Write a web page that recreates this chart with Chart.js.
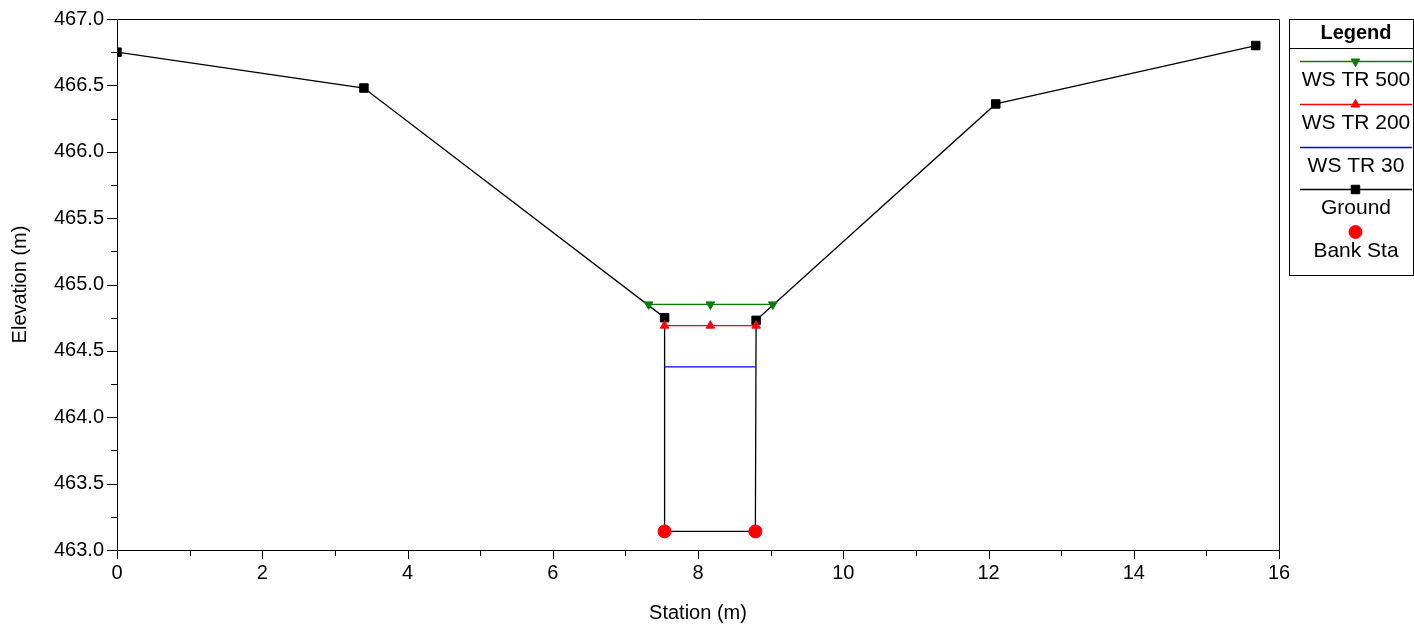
<!DOCTYPE html>
<html>
<head>
<meta charset="utf-8">
<title>Cross Section</title>
<script src="https://cdn.jsdelivr.net/npm/chart.js@4.4.1/dist/chart.umd.min.js"></script>
<style>
  html, body { margin: 0; padding: 0; background: #ffffff; }
  #wrap { position: relative; width: 1414px; height: 627px; }
</style>
</head>
<body>
<div id="wrap"><canvas id="xs" width="1414" height="627"></canvas></div>
<script>
// Ground profile (station, elevation)
const groundStation = [0, 3.40, 7.54, 7.54, 8.79, 8.80, 12.10, 15.68];
const groundElev    = [466.75, 466.48, 464.75, 463.14, 463.14, 464.73, 466.36, 466.80];

// Water surfaces
const ws500Station = [7.32, 8.17, 9.03];
const ws500Elev    = [464.85, 464.85, 464.85];
const ws200Station = [7.54, 8.17, 8.80];
const ws200Elev    = [464.69, 464.69, 464.69];
const ws30Station  = [7.54, 8.79];
const ws30Elev     = [464.38, 464.38];

// Bank stations
const bankStation = [7.54, 8.79];
const bankElev    = [463.14, 463.14];

// Axis ticks
const xTicks = [0, 2, 4, 6, 8, 10, 12, 14, 16];
const yTicks = [463.0, 463.5, 464.0, 464.5, 465.0, 465.5, 466.0, 466.5, 467.0];

const legendLabels = ['WS TR 500', 'WS TR 200', 'WS TR 30', 'Ground', 'Bank Sta'];

const FONT = '"Liberation Sans", Arial, Helvetica, sans-serif';

function pts(xs, ys) { return xs.map((x, i) => ({ x: x, y: ys[i] })); }

const datasets = [
  {
    label: legendLabels[0], data: pts(ws500Station, ws500Elev), order: 1,
    borderColor: '#008000', backgroundColor: '#008000', borderWidth: 1.3,
    pointStyle: 'triangle', pointRotation: 180, pointRadius: 5, pointBorderWidth: 1
  },
  {
    label: legendLabels[1], data: pts(ws200Station, ws200Elev), order: 2,
    borderColor: '#ff0000', backgroundColor: '#ff0000', borderWidth: 1.3,
    pointStyle: 'triangle', pointRadius: 5, pointBorderWidth: 1
  },
  {
    label: legendLabels[2], data: pts(ws30Station, ws30Elev), order: 3,
    borderColor: '#0000ff', backgroundColor: '#0000ff', borderWidth: 1.3,
    pointRadius: 0
  },
  {
    label: legendLabels[3], data: pts(groundStation, groundElev), order: 4,
    borderColor: '#000000', backgroundColor: '#000000', borderWidth: 1.3,
    pointStyle: 'rect', pointRadius: 6, pointBorderWidth: 1
  },
  {
    label: legendLabels[4], data: pts(bankStation, bankElev), order: 0,
    borderColor: '#ff0000', backgroundColor: '#ff0000', showLine: false,
    pointStyle: 'circle', pointRadius: 6.5, pointBorderWidth: 1
  }
];

// Outside ticks (major + minor) and plot frame
const frameTicks = {
  id: 'frameTicks',
  afterDraw(chart) {
    const { ctx, chartArea: a, scales } = chart;
    const xs = scales.x, ys = scales.y;
    ctx.save();
    ctx.strokeStyle = '#000';
    ctx.lineWidth = 1;
    ctx.beginPath();
    ctx.rect(Math.round(a.left) + 0.5, Math.round(a.top) + 0.5,
             Math.round(a.right - a.left), Math.round(a.bottom - a.top));
    ctx.stroke();
    ctx.beginPath();
    for (let v = 0; v <= 16; v += 1) {
      const px = Math.round(xs.getPixelForValue(v)) + 0.5;
      const len = (v % 2 === 0) ? 9 : 6;
      ctx.moveTo(px, a.bottom);
      ctx.lineTo(px, a.bottom + len);
    }
    for (let k = 0; k <= 16; k++) {
      const v = 463 + k * 0.25;
      const py = Math.round(ys.getPixelForValue(v)) + 0.5;
      const len = (k % 2 === 0) ? 10 : 6;
      ctx.moveTo(a.left, py);
      ctx.lineTo(a.left - len, py);
    }
    ctx.stroke();
    ctx.restore();
  }
};

// Legend panel to the right of the plot
const sideLegend = {
  id: 'sideLegend',
  afterDraw(chart) {
    const ctx = chart.ctx;
    const L = 1289.5, T = 19.5, R = 1413.5, B = 275.5;
    const cx = 1356;
    ctx.save();
    ctx.strokeStyle = '#000';
    ctx.lineWidth = 1;
    ctx.strokeRect(L, T, R - L, B - T);
    ctx.beginPath();
    ctx.moveTo(L, 48.5); ctx.lineTo(R, 48.5);
    ctx.stroke();

    ctx.fillStyle = '#000';
    ctx.textAlign = 'center';
    ctx.textBaseline = 'middle';
    ctx.font = 'bold 20px ' + FONT;
    ctx.fillText('Legend', cx, 33);

    const rows = [
      { line: 61.5, text: 80 },
      { line: 104.5, text: 123 },
      { line: 147.5, text: 166 },
      { line: 189.5, text: 208 },
      { line: 232, text: 251 }
    ];
    chart.data.datasets.forEach((ds, i) => {
      const r = rows[i];
      if (ds.showLine !== false) {
        ctx.strokeStyle = ds.borderColor;
        ctx.lineWidth = 1.3;
        ctx.beginPath();
        ctx.moveTo(1300, r.line); ctx.lineTo(1412, r.line);
        ctx.stroke();
      }
      if (ds.pointRadius > 0) {
        ctx.fillStyle = ds.backgroundColor;
        ctx.strokeStyle = ds.borderColor;
        ctx.lineWidth = ds.pointBorderWidth;
        Chart.helpers.drawPoint(ctx, {
          pointStyle: ds.pointStyle,
          rotation: ds.pointRotation || 0,
          radius: ds.pointRadius,
          borderWidth: ds.pointBorderWidth
        }, 1355.5, r.line);
      }
      ctx.fillStyle = '#000';
      ctx.font = '21px ' + FONT;
      ctx.fillText(ds.label, cx, r.text);
    });
    ctx.restore();
  }
};

new Chart(document.getElementById('xs'), {
  type: 'scatter',
  data: { datasets: datasets },
  options: {
    responsive: false,
    animation: false,
    devicePixelRatio: 1,
    showLine: true,
    layout: { padding: { left: 0, top: 19, right: 135, bottom: 0 } },
    plugins: {
      legend: { display: false },
      tooltip: { enabled: false }
    },
    elements: { line: { tension: 0 } },
    scales: {
      x: {
        type: 'linear', min: 0, max: 16,
        grid: { display: false },
        border: { display: false },
        afterBuildTicks(scale) { scale.ticks = xTicks.map(v => ({ value: v })); },
        afterFit(scale) {
          scale.height = 77;
          scale.paddingLeft = 0;
          scale.paddingRight = 0;
        },
        ticks: {
          color: '#000', padding: 3, maxRotation: 0,
          font: { family: FONT, size: 20 },
          callback: v => String(v)
        },
        title: {
          display: true, text: 'Station (m)', color: '#000',
          font: { family: FONT, size: 20 }, padding: { top: 8, bottom: 2 }
        }
      },
      y: {
        type: 'linear', min: 463, max: 467,
        grid: { display: false },
        border: { display: false },
        afterBuildTicks(scale) { scale.ticks = yTicks.map(v => ({ value: v })); },
        afterFit(scale) {
          scale.width = 117;
          scale.paddingTop = 0;
          scale.paddingBottom = 0;
        },
        ticks: {
          color: '#000', padding: 5,
          font: { family: FONT, size: 20 },
          callback: v => Number(v).toFixed(1)
        },
        title: {
          display: true, text: 'Elevation (m)', color: '#000',
          font: { family: FONT, size: 20 }, padding: { top: 8, bottom: 4 }
        }
      }
    }
  },
  plugins: [frameTicks, sideLegend]
});
</script>
</body>
</html>
